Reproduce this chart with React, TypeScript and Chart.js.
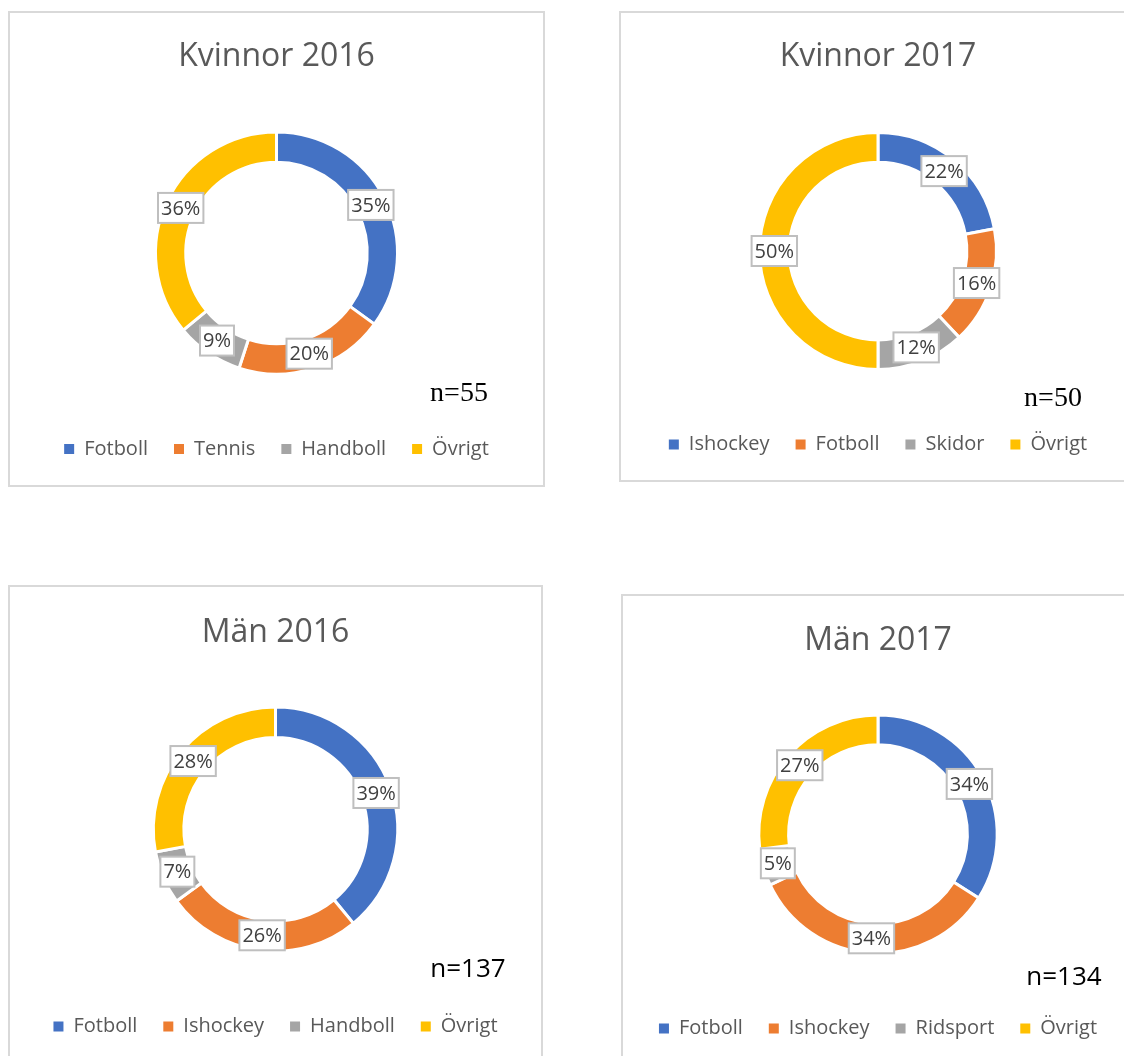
import React, { useEffect, useRef } from 'react';
import { Chart, registerables } from 'chart.js';

Chart.register(...registerables);

const titles = ['Kvinnor 2016', 'Kvinnor 2017', 'Män 2016', 'Män 2017'];

const categoriesK16 = ['Fotboll', 'Tennis', 'Handboll', 'Övrigt'];
const valuesK16 = [35, 20, 9, 36];

const categoriesK17 = ['Ishockey', 'Fotboll', 'Skidor', 'Övrigt'];
const valuesK17 = [22, 16, 12, 50];

const categoriesM16 = ['Fotboll', 'Ishockey', 'Handboll', 'Övrigt'];
const valuesM16 = [39, 26, 7, 28];

const categoriesM17 = ['Fotboll', 'Ishockey', 'Ridsport', 'Övrigt'];
const valuesM17 = [34, 34, 5, 27];

const sampleSizes = ['n=55', 'n=50', 'n=137', 'n=134'];

const sliceColors = ['#4472C4', '#ED7D31', '#A5A5A5', '#FFC000'];

// Layout (page coordinates) for each panel
type PanelLayout = {
  left: number; top: number; w: number; h: number;
  titleY: number; donutTop: number; R: number; legendY: number;
  nX: number; nY: number; nFont: string;
};

const layouts: PanelLayout[] = [
  { left: 8, top: 11, w: 537, h: 476, titleY: 57, donutTop: 133.5, R: 119.5, legendY: 449, nX: 459, nY: 394, nFont: '28px "Liberation Serif"' },
  { left: 619, top: 11, w: 518, h: 471, titleY: 57, donutTop: 134, R: 117, legendY: 444.5, nX: 1053, nY: 399, nFont: '28px "Liberation Serif"' },
  { left: 8, top: 585, w: 535, h: 480, titleY: 633, donutTop: 708.5, R: 120.7, legendY: 1026.5, nX: 468, nY: 970, nFont: '26px "Open Sans"' },
  { left: 621, top: 594, w: 514, h: 470, titleY: 641, donutTop: 716.5, R: 117.7, legendY: 1028.5, nX: 1064, nY: 978, nFont: '26px "Open Sans"' },
];

const pctLabelPlugin = {
  id: 'pctLabels',
  afterDatasetsDraw(chart: any) {
    const ctx = chart.ctx;
    const meta = chart.getDatasetMeta(0);
    const data = chart.data.datasets[0].data;
    ctx.save();
    ctx.font = '20px "Open Sans"';
    ctx.textAlign = 'center';
    ctx.textBaseline = 'middle';
    meta.data.forEach((arc: any, i: number) => {
      const p = arc.getProps(['x', 'y', 'startAngle', 'endAngle', 'innerRadius', 'outerRadius'], true);
      const mid = (p.startAngle + p.endAngle) / 2;
      const r = (p.innerRadius + p.outerRadius) / 2;
      const cx = p.x + Math.cos(mid) * r;
      const cy = p.y + Math.sin(mid) * r;
      const text = data[i] + '%';
      const tw = ctx.measureText(text).width;
      const bw = tw + 6;
      const bh = 30;
      ctx.fillStyle = '#FFFFFF';
      ctx.fillRect(cx - bw / 2, cy - bh / 2, bw, bh);
      ctx.strokeStyle = '#BFBFBF';
      ctx.lineWidth = 2;
      ctx.strokeRect(cx - bw / 2, cy - bh / 2, bw, bh);
      ctx.fillStyle = '#404040';
      ctx.fillText(text, cx, cy + 1);
    });
    ctx.restore();
  },
};

const sampleSizePlugin = {
  id: 'sampleSize',
  afterDraw(chart: any, _args: any, opts: any) {
    const ctx = chart.ctx;
    ctx.save();
    ctx.font = opts.font;
    ctx.fillStyle = '#000000';
    ctx.textAlign = 'center';
    ctx.textBaseline = 'middle';
    ctx.fillText(opts.text, opts.x, opts.y);
    ctx.restore();
  },
};

function Panel({ title, labels, values, nText, layout }: { title: string; labels: string[]; values: number[]; nText: string; layout: PanelLayout }) {
  const ref = useRef<HTMLCanvasElement | null>(null);
  const border = 2;
  const cw = layout.w - 2 * border;
  const ch = layout.h - 2 * border;
  const canvasLeft = layout.left + border;
  const canvasTop = layout.top + border;

  useEffect(() => {
    if (!ref.current) return;
    const bw = 3;
    const titleFontSize = 32;
    const titleLH = titleFontSize * 1.2;
    const chartTop = layout.donutTop - bw - canvasTop;
    const chartH = 2 * layout.R + 2 * bw;
    const titlePadTop = layout.titleY - canvasTop - titleLH / 2;
    const titlePadBottom = chartTop - titlePadTop - titleLH;
    const legendTop = chartTop + chartH;
    const lp = 26;
    const legendFont = 20;
    const legendTextMid = layout.legendY - canvasTop;
    const legendTitleH = legendTextMid - legendTop - lp - legendFont / 2;
    const legendBottom = legendTextMid + legendFont / 2 + 10;
    const padBottom = ch - legendBottom;

    const chart = new Chart(ref.current, {
      type: 'doughnut',
      data: {
        labels,
        datasets: [
          {
            data: values,
            backgroundColor: sliceColors,
            borderColor: '#FFFFFF',
            borderWidth: bw,
            hoverOffset: 0,
          },
        ],
      },
      options: {
        responsive: false,
        animation: false,
        events: [],
        cutout: '75%',
        layout: { padding: { top: 0, left: 0, right: 0, bottom: padBottom } },
        plugins: {
          title: {
            display: true,
            text: title,
            color: '#595959',
            font: { family: '"Open Sans"', size: titleFontSize, weight: 'normal' },
            padding: { top: titlePadTop, bottom: titlePadBottom },
          },
          legend: {
            display: true,
            position: 'bottom',
            title: {
              display: true,
              text: '',
              font: { size: 1 },
              padding: { top: legendTitleH - 1.2, bottom: 0 },
            },
            labels: {
              boxWidth: 10,
              boxHeight: 10,
              padding: lp,
              color: '#595959',
              font: { family: '"Open Sans"', size: legendFont },
              generateLabels: (c: any) =>
                Chart.overrides.doughnut.plugins.legend.labels
                  .generateLabels(c)
                  .map((item: any) => ({ ...item, lineWidth: 0, strokeStyle: item.fillStyle })),
            },
          },
          tooltip: { enabled: false },
          sampleSize: {
            text: nText,
            x: layout.nX - canvasLeft,
            y: layout.nY - canvasTop,
            font: layout.nFont,
          },
        } as any,
      },
      plugins: [pctLabelPlugin, sampleSizePlugin],
    });
    return () => chart.destroy();
  }, []);

  return (
    <div
      style={{
        position: 'absolute',
        left: layout.left,
        top: layout.top,
        width: layout.w - 2 * border,
        height: layout.h - 2 * border,
        border: `${border}px solid #D9D9D9`,
        background: '#FFFFFF',
      }}
    >
      <canvas ref={ref} width={cw} height={ch} style={{ display: 'block', width: cw, height: ch }} />
    </div>
  );
}

export default function App() {
  const labelSets = [categoriesK16, categoriesK17, categoriesM16, categoriesM17];
  const valueSets = [valuesK16, valuesK17, valuesM16, valuesM17];
  return (
    <div style={{ position: 'fixed', left: 0, top: 0, width: 1124, height: 1056, overflow: 'hidden', background: '#FFFFFF' }}>
      {titles.map((t, i) => (
        <Panel key={t} title={t} labels={labelSets[i]} values={valueSets[i]} nText={sampleSizes[i]} layout={layouts[i]} />
      ))}
    </div>
  );
}
